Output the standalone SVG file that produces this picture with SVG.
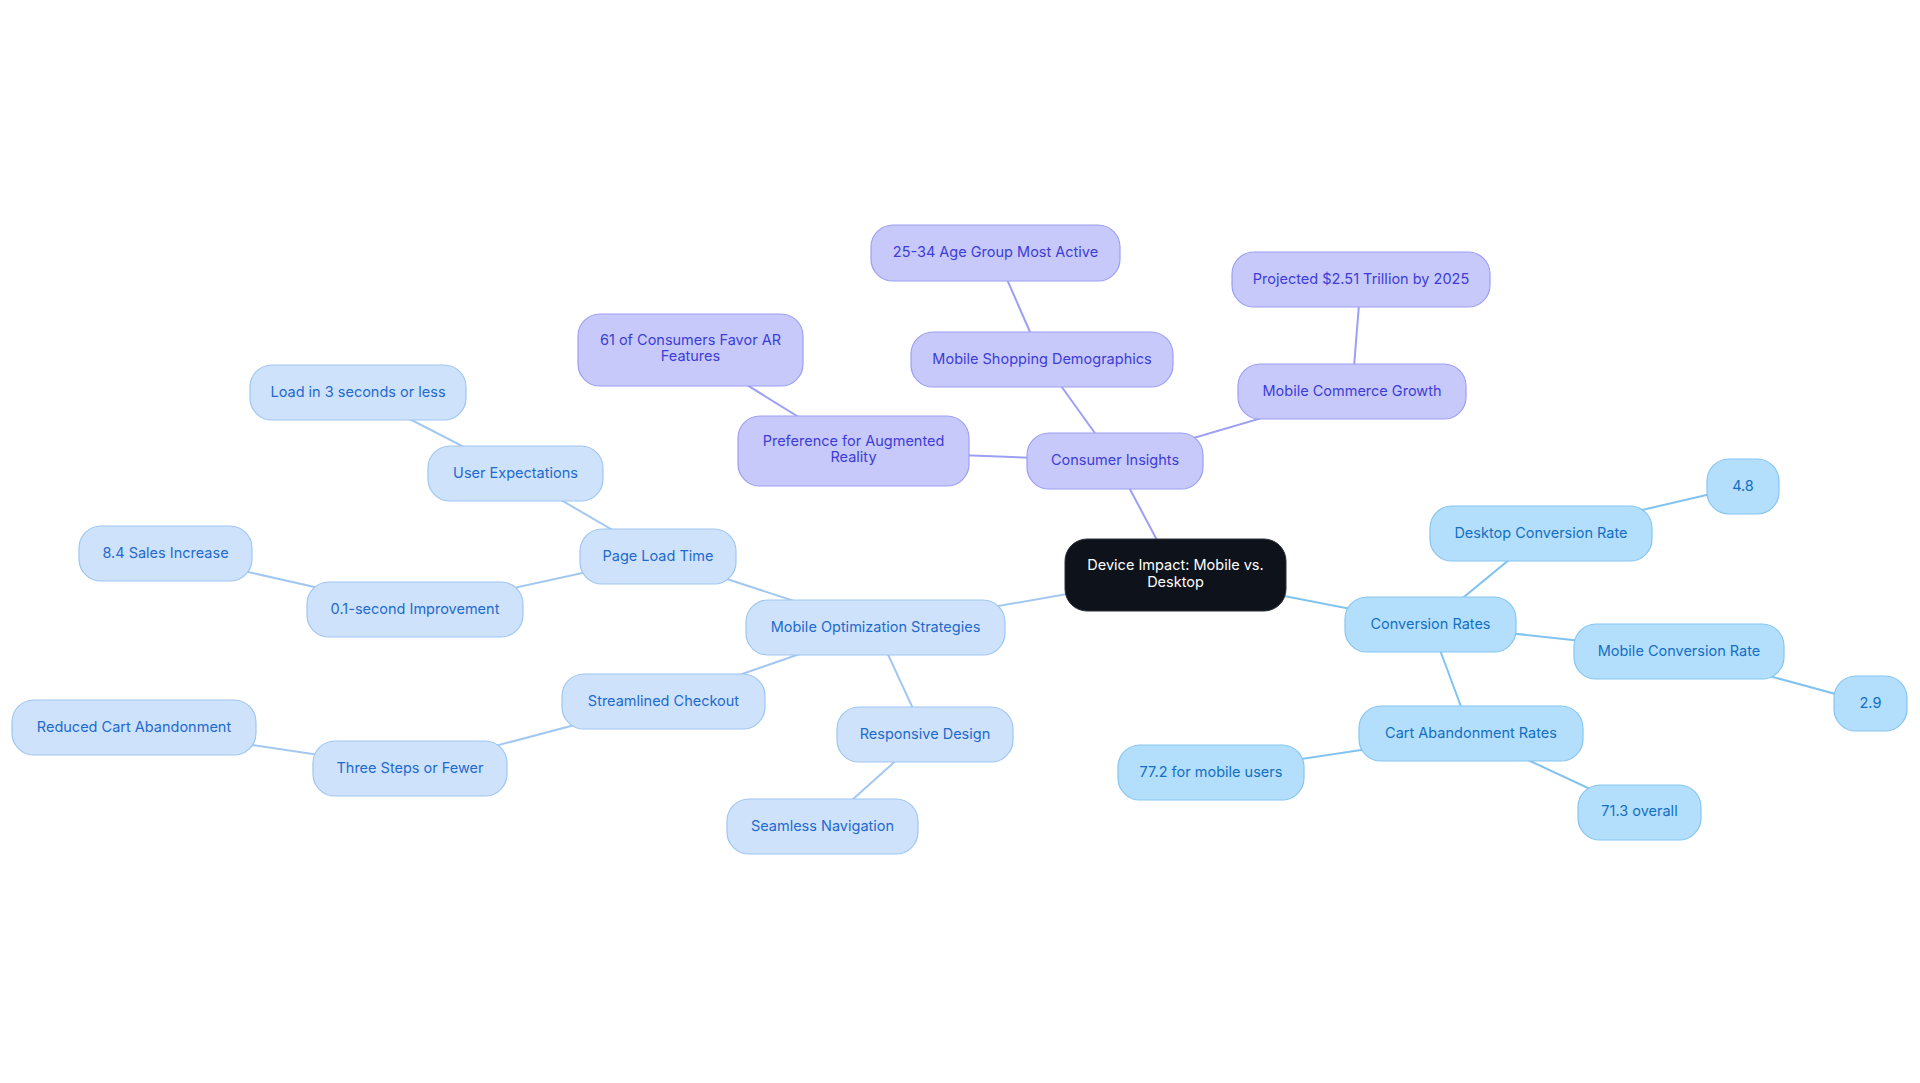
<svg xmlns="http://www.w3.org/2000/svg" width="1920" height="1083" viewBox="0 0 1920 1083">
<style>
text{font-family:Inter,"Noto Sans","Liberation Sans",sans-serif;font-size:14.5px;text-anchor:middle;dominant-baseline:central;transform:translateY(-1.2px)}
.p rect{fill:#c8c9fb;stroke:#9c9ff3;stroke-width:1.2}
.p text{fill:#3c3dd4}
.b rect{fill:#cee3fb;stroke:#9fc6f1;stroke-width:1.2}
.b text{fill:#1f6acd}
.c rect{fill:#b4dffc;stroke:#86c5f1;stroke-width:1.2}
.c text{fill:#136fc3}
.r rect{fill:#0d121b;stroke:#2a2f38;stroke-width:1}
.r text{fill:#ffffff}
.ep{stroke:#9c9ff3;stroke-width:2;fill:none}
.eb{stroke:#a3c8f0;stroke-width:2;fill:none}
.ec{stroke:#80c2f0;stroke-width:2;fill:none}
</style>
<rect width="1920" height="1083" fill="#ffffff"/>
<g id="connectors">
<line class="ep" x1="1175.5" y1="575" x2="1115" y2="461"/>
<line class="ep" x1="1115" y1="461" x2="1042" y2="359.5"/>
<line class="ep" x1="1042" y1="359.5" x2="995.5" y2="253"/>
<line class="ep" x1="1115" y1="461" x2="1352" y2="391.5"/>
<line class="ep" x1="1352" y1="391.5" x2="1361" y2="279.5"/>
<line class="ep" x1="1115" y1="461" x2="853.5" y2="451"/>
<line class="ep" x1="853.5" y1="451" x2="690.5" y2="350"/>
<line class="ec" x1="1175.5" y1="575" x2="1430.5" y2="624.5"/>
<line class="ec" x1="1430.5" y1="624.5" x2="1541" y2="533.5"/>
<line class="ec" x1="1541" y1="533.5" x2="1743" y2="486.5"/>
<line class="ec" x1="1430.5" y1="624.5" x2="1679" y2="651.5"/>
<line class="ec" x1="1679" y1="651.5" x2="1870.5" y2="703.5"/>
<line class="ec" x1="1430.5" y1="624.5" x2="1471" y2="733.5"/>
<line class="ec" x1="1471" y1="733.5" x2="1211" y2="772.5"/>
<line class="ec" x1="1471" y1="733.5" x2="1639.5" y2="812"/>
<line class="eb" x1="1175.5" y1="575" x2="875.5" y2="627.5"/>
<line class="eb" x1="875.5" y1="627.5" x2="658" y2="556.5"/>
<line class="eb" x1="658" y1="556.5" x2="515.5" y2="473.5"/>
<line class="eb" x1="515.5" y1="473.5" x2="358" y2="392.5"/>
<line class="eb" x1="658" y1="556.5" x2="415" y2="609.5"/>
<line class="eb" x1="415" y1="609.5" x2="165.5" y2="553.5"/>
<line class="eb" x1="875.5" y1="627.5" x2="663.5" y2="701.5"/>
<line class="eb" x1="663.5" y1="701.5" x2="410" y2="768.5"/>
<line class="eb" x1="410" y1="768.5" x2="134" y2="727.5"/>
<line class="eb" x1="875.5" y1="627.5" x2="925" y2="734.5"/>
<line class="eb" x1="925" y1="734.5" x2="822.5" y2="826.5"/>
</g>
<g id="root" class="r"><rect x="1065" y="539" width="221" height="72" rx="22"/><text x="1175.5" y="566">Device Impact: Mobile vs.</text><text x="1175.5" y="583">Desktop</text></g>
<g id="consumer-insights" class="p"><rect x="1027" y="433" width="176" height="56" rx="22"/><text x="1115" y="461">Consumer Insights</text></g>
<g id="mobile-shopping-demographics" class="p"><rect x="911" y="332" width="262" height="55" rx="22"/><text x="1042" y="359.5">Mobile Shopping Demographics</text></g>
<g id="age-group" class="p"><rect x="871" y="225" width="249" height="56" rx="22"/><text x="995.5" y="253">25-34 Age Group Most Active</text></g>
<g id="mobile-commerce-growth" class="p"><rect x="1238" y="364" width="228" height="55" rx="22"/><text x="1352" y="391.5">Mobile Commerce Growth</text></g>
<g id="projected" class="p"><rect x="1232" y="252" width="258" height="55" rx="22"/><text x="1361" y="279.5">Projected $2.51 Trillion by 2025</text></g>
<g id="preference-ar" class="p"><rect x="738" y="416" width="231" height="70" rx="22"/><text x="853.5" y="442">Preference for Augmented</text><text x="853.5" y="458">Reality</text></g>
<g id="consumers-favor-ar" class="p"><rect x="578" y="314" width="225" height="72" rx="22"/><text x="690.5" y="341">61 of Consumers Favor AR</text><text x="690.5" y="357">Features</text></g>
<g id="conversion-rates" class="c"><rect x="1345" y="597" width="171" height="55" rx="22"/><text x="1430.5" y="624.5">Conversion Rates</text></g>
<g id="desktop-conversion-rate" class="c"><rect x="1430" y="506" width="222" height="55" rx="22"/><text x="1541" y="533.5">Desktop Conversion Rate</text></g>
<g id="v48" class="c"><rect x="1707" y="459" width="72" height="55" rx="22"/><text x="1743" y="486.5">4.8</text></g>
<g id="mobile-conversion-rate" class="c"><rect x="1574" y="624" width="210" height="55" rx="22"/><text x="1679" y="651.5">Mobile Conversion Rate</text></g>
<g id="v29" class="c"><rect x="1834" y="676" width="73" height="55" rx="22"/><text x="1870.5" y="703.5">2.9</text></g>
<g id="cart-abandonment-rates" class="c"><rect x="1359" y="706" width="224" height="55" rx="22"/><text x="1471" y="733.5">Cart Abandonment Rates</text></g>
<g id="mobile-users" class="c"><rect x="1118" y="745" width="186" height="55" rx="22"/><text x="1211" y="772.5">77.2 for mobile users</text></g>
<g id="overall" class="c"><rect x="1578" y="785" width="123" height="55" rx="22"/><text x="1639.5" y="812">71.3 overall</text></g>
<g id="mobile-optimization" class="b"><rect x="746" y="600" width="259" height="55" rx="22"/><text x="875.5" y="627.5">Mobile Optimization Strategies</text></g>
<g id="page-load-time" class="b"><rect x="580" y="529" width="156" height="55" rx="22"/><text x="658" y="556.5">Page Load Time</text></g>
<g id="user-expectations" class="b"><rect x="428" y="446" width="175" height="55" rx="22"/><text x="515.5" y="473.5">User Expectations</text></g>
<g id="load-3-seconds" class="b"><rect x="250" y="365" width="216" height="55" rx="22"/><text x="358" y="392.5">Load in 3 seconds or less</text></g>
<g id="improvement" class="b"><rect x="307" y="582" width="216" height="55" rx="22"/><text x="415" y="609.5">0.1-second Improvement</text></g>
<g id="sales-increase" class="b"><rect x="79" y="526" width="173" height="55" rx="22"/><text x="165.5" y="553.5">8.4 Sales Increase</text></g>
<g id="streamlined-checkout" class="b"><rect x="562" y="674" width="203" height="55" rx="22"/><text x="663.5" y="701.5">Streamlined Checkout</text></g>
<g id="three-steps" class="b"><rect x="313" y="741" width="194" height="55" rx="22"/><text x="410" y="768.5">Three Steps or Fewer</text></g>
<g id="reduced-cart" class="b"><rect x="12" y="700" width="244" height="55" rx="22"/><text x="134" y="727.5">Reduced Cart Abandonment</text></g>
<g id="responsive-design" class="b"><rect x="837" y="707" width="176" height="55" rx="22"/><text x="925" y="734.5">Responsive Design</text></g>
<g id="seamless-navigation" class="b"><rect x="727" y="799" width="191" height="55" rx="22"/><text x="822.5" y="826.5">Seamless Navigation</text></g>
</svg>
